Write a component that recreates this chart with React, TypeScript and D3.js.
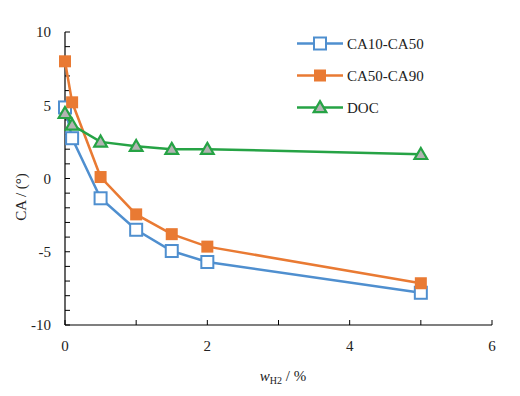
import React from "react";
import * as d3 from "d3";

const xValues = [0, 0.1, 0.5, 1, 1.5, 2, 5];
const ca1050 = [4.85, 2.75, -1.35, -3.5, -4.95, -5.7, -7.8];
const ca5090 = [8.0, 5.2, 0.1, -2.45, -3.8, -4.65, -7.15];
const doc = [4.45, 3.65, 2.5, 2.2, 2.0, 2.0, 1.65];
const xTickLabels = [0, 2, 4, 6];
const yTickLabels = [-10, -5, 0, 5, 10];

const width = 520;
const height = 396;
const margin = { left: 65, right: 28, top: 32, bottom: 71 };
const font = "'Liberation Serif', 'Times New Roman', serif";

const series = [
  { name: "CA10-CA50", values: ca1050, color: "#4f8fcf", marker: "openSquare" },
  { name: "CA50-CA90", values: ca5090, color: "#e97a33", marker: "square" },
  { name: "DOC", values: doc, color: "#26a345", marker: "triangle" },
];

const Marker = ({ type, color, x, y }: { type: string; color: string; x: number; y: number }) => {
  if (type === "openSquare") {
    return <rect x={x - 6} y={y - 6} width={12} height={12} fill="#fff" stroke={color} strokeWidth={2} />;
  }
  if (type === "square") {
    return <rect x={x - 6} y={y - 6} width={12} height={12} fill={color} />;
  }
  const s = d3.symbol(d3.symbolTriangle, 70)();
  return <path d={s || ""} transform={`translate(${x},${y + 1})`} fill="#b3b3b3" stroke={color} strokeWidth={2.2} />;
};

export default function App() {
  const x = d3.scaleLinear().domain([0, 6]).range([margin.left, width - margin.right]);
  const y = d3.scaleLinear().domain([-10, 10]).range([height - margin.bottom, margin.top]);
  const line = d3
    .line<number>()
    .x((_, i) => x(xValues[i]))
    .y((d) => y(d));

  const x0 = x(0);
  const yBottom = y(-10);

  return (
    <svg width={width} height={height} style={{ position: "absolute", left: 0, top: 0 }}>
      {/* axes */}
      <line x1={x0} x2={x0} y1={y(10)} y2={yBottom} stroke="#000" strokeWidth={1.2} />
      <line x1={x0} x2={x(6)} y1={yBottom} y2={yBottom} stroke="#000" strokeWidth={1.2} />
      {d3.range(-10, 11, 1).map((t) => (
        <line key={"yt" + t} x1={x0} x2={x0 + 5} y1={y(t)} y2={y(t)} stroke="#000" strokeWidth={1} />
      ))}
      {d3.range(0, 7, 1).map((t) => (
        <line key={"xt" + t} x1={x(t)} x2={x(t)} y1={yBottom} y2={yBottom - 5} stroke="#000" strokeWidth={1} />
      ))}
      {yTickLabels.map((t) => (
        <text key={"yl" + t} x={x0 - 14} y={y(t)} dy="0.35em" textAnchor="end" fontFamily={font} fontSize={15} fill="#222">
          {t}
        </text>
      ))}
      {xTickLabels.map((t) => (
        <text key={"xl" + t} x={x(t)} y={yBottom + 21} dy="0.35em" textAnchor="middle" fontFamily={font} fontSize={15} fill="#222">
          {t}
        </text>
      ))}
      <text
        transform={`translate(21,197) rotate(-90)`}
        textAnchor="middle"
        dy="0.35em"
        fontFamily={font}
        fontSize={15}
        fill="#222"
      >
        CA / (°)
      </text>
      <text x={283} y={381} textAnchor="middle" fontFamily={font} fontSize={15} fill="#222">
        <tspan fontStyle="italic">w</tspan>
        <tspan fontSize={10} dy={3}>H2</tspan>
        <tspan dy={-3}> / %</tspan>
      </text>

      {/* series */}
      {series.map((s) => (
        <g key={s.name}>
          <path d={line(s.values) || ""} fill="none" stroke={s.color} strokeWidth={2.5} />
          {s.values.map((v, i) => (
            <Marker key={i} type={s.marker} color={s.color} x={x(xValues[i])} y={y(v)} />
          ))}
        </g>
      ))}

      {/* legend */}
      {series.map((s, i) => {
        const ly = 43.5 + i * 32;
        return (
          <g key={"lg" + s.name}>
            <line x1={297} x2={343} y1={ly} y2={ly} stroke={s.color} strokeWidth={2.5} />
            <Marker type={s.marker} color={s.color} x={320} y={ly} />
            <text x={347} y={ly} dy="0.35em" fontFamily={font} fontSize={15} fill="#222">
              {s.name}
            </text>
          </g>
        );
      })}
    </svg>
  );
}
